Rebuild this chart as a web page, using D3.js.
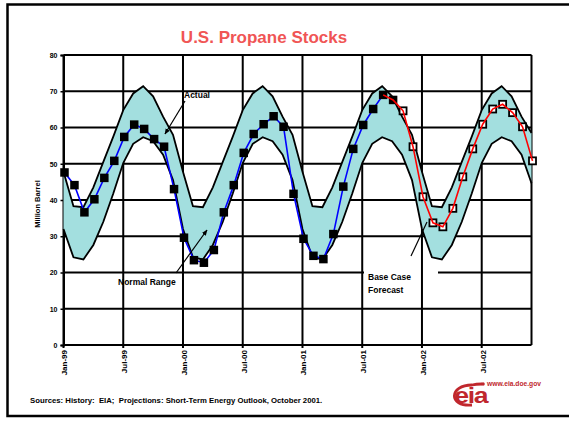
<!DOCTYPE html>
<html>
<head>
<meta charset="utf-8">
<script src="https://cdn.jsdelivr.net/npm/d3@7"></script>
<style>
	body { margin: 0; background: #fff; }
	text { font-family: Arial, "Liberation Sans", sans-serif; font-weight: bold; }
</style>
</head>
<body>
<div id="svgElement1"></div>
<script>
// month categories, Jan-99 .. Dec-02
var months = ["Jan-99","Feb-99","Mar-99","Apr-99","May-99","Jun-99","Jul-99","Aug-99","Sep-99","Oct-99","Nov-99","Dec-99",
	"Jan-00","Feb-00","Mar-00","Apr-00","May-00","Jun-00","Jul-00","Aug-00","Sep-00","Oct-00","Nov-00","Dec-00",
	"Jan-01","Feb-01","Mar-01","Apr-01","May-01","Jun-01","Jul-01","Aug-01","Sep-01","Oct-01","Nov-01","Dec-01",
	"Jan-02","Feb-02","Mar-02","Apr-02","May-02","Jun-02","Jul-02","Aug-02","Sep-02","Oct-02","Nov-02","Dec-02"];

// history (million barrels), Jan-99 .. Oct-01
var actual = [47.6, 44.1, 36.6, 40.2, 46.1, 50.8, 57.4, 60.8, 59.6, 56.8, 54.7, 43.0,
	29.6, 23.4, 22.7, 26.2, 36.6, 44.1, 53.0, 58.2, 60.9, 63.1, 60.2, 41.7,
	29.3, 24.6, 23.7, 30.6, 43.7, 54.1, 60.7, 65.1, 69.0, 67.6];

// base case forecast, Sep-01 .. Dec-02 (starts at last history points)
var forecastStart = 32;
var forecast = [69.0, 67.6, 64.6, 54.7, 40.9, 33.7, 32.6, 37.7, 46.4, 54.1, 60.9, 65.1, 66.4, 64.1, 60.2, 50.8];
var forecastMarked = 34; // open squares from Nov-01

// normal range bounds, one value per month
var upper = [47.8, 38.3, 38.0, 43.5, 50.5, 57.5, 64.8, 69.4, 71.4, 68.6, 63.0, 58.0,
	47.8, 38.3, 38.0, 43.5, 50.5, 57.5, 64.8, 69.4, 71.4, 68.6, 63.0, 58.0,
	47.8, 38.3, 38.0, 43.5, 50.5, 57.5, 64.8, 69.4, 71.4, 68.6, 63.0, 58.0,
	47.8, 38.3, 38.0, 43.5, 50.5, 57.5, 64.8, 69.4, 71.4, 68.6, 63.0, 58.5];
var lower = [32.0, 24.2, 23.6, 27.6, 34.0, 41.8, 50.2, 55.5, 57.3, 56.2, 52.5, 45.5,
	32.0, 24.2, 23.6, 27.6, 34.0, 41.8, 50.2, 55.5, 57.3, 56.2, 52.5, 45.5,
	32.0, 24.2, 23.6, 27.6, 34.0, 41.8, 50.2, 55.5, 57.3, 56.2, 52.5, 45.5,
	32.0, 24.2, 23.6, 27.6, 34.0, 41.8, 50.2, 55.5, 57.3, 56.2, 52.5, 44.6];

var yTicks = [0, 10, 20, 30, 40, 50, 60, 70, 80];
var xTicks = ["Jan-99","Jul-99","Jan-00","Jul-00","Jan-01","Jul-01","Jan-02","Jul-02"];

var width = 569, height = 426;
var plot = {left: 63.5, right: 531.5, top: 55, bottom: 345};

var svg = d3.select("#svgElement1").append("svg").attr("width", width).attr("height", height);

svg.append("rect").attr("width", width).attr("height", height).style("fill", "#fff");

// slide frame
svg.append("rect")
	.attr("x", 7.5).attr("y", 4.5)
	.attr("width", 620).attr("height", 411.5)
	.style("fill", "none").style("stroke", "#000").style("stroke-width", 2.5);

var x = d3.scaleLinear().domain([0, months.length - 1]).range([plot.left, plot.right]);
var y = d3.scaleLinear().domain([0, 80]).range([plot.bottom, plot.top]);

// title
svg.append("text")
	.attr("x", 264).attr("y", 43)
	.attr("text-anchor", "middle")
	.style("font-size", "17px")
	.style("fill", "#f05555")
	.text("U.S. Propane Stocks");

// horizontal grid
svg.append("g").selectAll("line").data(yTicks).join("line")
	.attr("x1", plot.left).attr("x2", plot.right)
	.attr("y1", d => y(d)).attr("y2", d => y(d))
	.style("stroke", "#000").style("stroke-width", 2);

// white box behind the forecast label
svg.append("rect")
	.attr("x", 364).attr("y", 266).attr("width", 74).attr("height", 33)
	.style("fill", "#fff");

// vertical grid (Jan / Jul + right edge)
var xGrid = xTicks.map(t => months.indexOf(t)).concat([months.length - 1]);
svg.append("g").selectAll("line").data(xGrid).join("line")
	.attr("x1", d => x(d)).attr("x2", d => x(d))
	.attr("y1", y(80)).attr("y2", d => d == months.length - 1 ? y(0) : y(0) + 3)
	.style("stroke", "#000").style("stroke-width", 2);

// y axis ticks + labels
var yAxis = d3.axisLeft(y).tickValues(yTicks).tickSize(3).tickPadding(3);
var gy = svg.append("g").attr("transform", "translate(" + plot.left + ",0)").call(yAxis);
gy.select(".domain").style("stroke", "#000").style("stroke-width", 2);
gy.selectAll(".tick line").style("stroke-width", 1.5);
gy.selectAll("text").style("font-size", "7px").style("font-family", "Arial, 'Liberation Sans', sans-serif").style("font-weight", "bold");

// x tick labels, rotated
svg.append("g").selectAll("text").data(xTicks).join("text")
	.attr("transform", d => "translate(" + (x(months.indexOf(d)) + 1) + "," + (plot.bottom + 5) + ") rotate(-90)")
	.attr("text-anchor", "end")
	.attr("dy", "0.35em")
	.style("font-size", "8px")
	.text(d => d);

// y axis title
svg.append("text")
	.attr("transform", "translate(40," + ((plot.top + plot.bottom) / 2 + 4) + ") rotate(-90)")
	.attr("text-anchor", "middle")
	.style("font-size", "7.5px")
	.text("Million Barrel");

// normal range band
var idx = d3.range(months.length);
var band = d3.area()
	.x(i => x(i))
	.y0(i => y(lower[i]))
	.y1(i => y(upper[i]));
svg.append("path").datum(idx).attr("d", band).style("fill", "#a3dfdf");

var upLine = d3.line().x(i => x(i)).y(i => y(upper[i]));
var loLine = d3.line().x(i => x(i)).y(i => y(lower[i]));
svg.append("path").datum(idx).attr("d", upLine).style("fill", "none").style("stroke", "#000").style("stroke-width", 1.8);
svg.append("path").datum(idx).attr("d", loLine).style("fill", "none").style("stroke", "#000").style("stroke-width", 1.8);

// history
var histLine = d3.line().x((d, i) => x(i) + 1).y(d => y(d));
svg.append("path").datum(actual.slice(0, forecastStart + 1)).attr("d", histLine)
	.style("fill", "none").style("stroke", "#0000ff").style("stroke-width", 1.6);

svg.append("g").selectAll("rect").data(actual).join("rect")
	.attr("x", (d, i) => x(i) + 1 - 4.25)
	.attr("y", d => y(d) - 4.25)
	.attr("width", 8.5).attr("height", 8.5)
	.style("fill", "#000");

// forecast
var fcData = forecast.map((d, i) => ({i: forecastStart + i, v: d}));
var fcMarks = fcData.filter(d => d.i >= forecastMarked);
svg.append("g").selectAll("rect").data(fcMarks).join("rect")
	.attr("x", d => x(d.i) + 1 - 3.5)
	.attr("y", d => y(d.v) - 3.5)
	.attr("width", 7).attr("height", 7)
	.style("fill", "#fff").style("stroke", "#000").style("stroke-width", 1.8);

var fcLine = d3.line().x(d => x(d.i) + 1).y(d => y(d.v));
svg.append("path").datum(fcData).attr("d", fcLine)
	.style("fill", "none").style("stroke", "#ff0000").style("stroke-width", 1.6);

// annotations
svg.append("defs").append("marker")
	.attr("id", "head").attr("viewBox", "0 0 10 10")
	.attr("refX", 9).attr("refY", 5)
	.attr("markerWidth", 5).attr("markerHeight", 5)
	.attr("orient", "auto")
	.append("path").attr("d", "M0,1L10,5L0,9z").style("fill", "#000");

svg.append("text").attr("x", 184).attr("y", 98).style("font-size", "8.5px").text("Actual");
svg.append("line")
	.attr("x1", 185).attr("y1", 101).attr("x2", 165).attr("y2", 134)
	.attr("marker-end", "url(#head)")
	.style("stroke", "#000").style("stroke-width", 1.2);

svg.append("text").attr("x", 118).attr("y", 285).style("font-size", "8.5px").text("Normal Range");
svg.append("line")
	.attr("x1", 176).attr("y1", 273).attr("x2", 207).attr("y2", 230)
	.attr("marker-end", "url(#head)")
	.style("stroke", "#000").style("stroke-width", 1.2);

svg.append("text").attr("x", 368).attr("y", 280).style("font-size", "8.5px").text("Base Case");
svg.append("text").attr("x", 368).attr("y", 293).style("font-size", "8.5px").text("Forecast");
svg.append("line")
	.attr("x1", 411).attr("y1", 256).attr("x2", 427).attr("y2", 222)
	.style("stroke", "#000").style("stroke-width", 1.2);

// source note
svg.append("text").attr("x", 30).attr("y", 403).style("font-size", "7.75px").style("white-space", "pre")
	.text("Sources: History:  EIA;  Projections: Short-Term Energy Outlook, October 2001.");

// eia logo
var logo = svg.append("g").attr("transform", "translate(470,396)");
logo.append("path")
	.attr("d", "M2,9 C-22,11 -21,-11 2,-11 C6,-12 9,-12 12,-12")
	.style("fill", "none").style("stroke", "#c0272d").style("stroke-width", 2.8);
logo.append("circle").attr("cx", 13).attr("cy", -12).attr("r", 1.8).style("fill", "#c0272d");
logo.append("text").attr("x", 0.5).attr("y", 5.5).attr("text-anchor", "middle")
	.attr("transform", "scale(1.4,1.2)")
	.style("font-size", "19px").style("fill", "#c0272d").style("letter-spacing", "-1px").text("eia");
svg.append("text").attr("x", 487).attr("y", 386).style("font-size", "6.7px").style("fill", "#c0272d")
	.text("www.eia.doe.gov");
</script>
</body>
</html>
